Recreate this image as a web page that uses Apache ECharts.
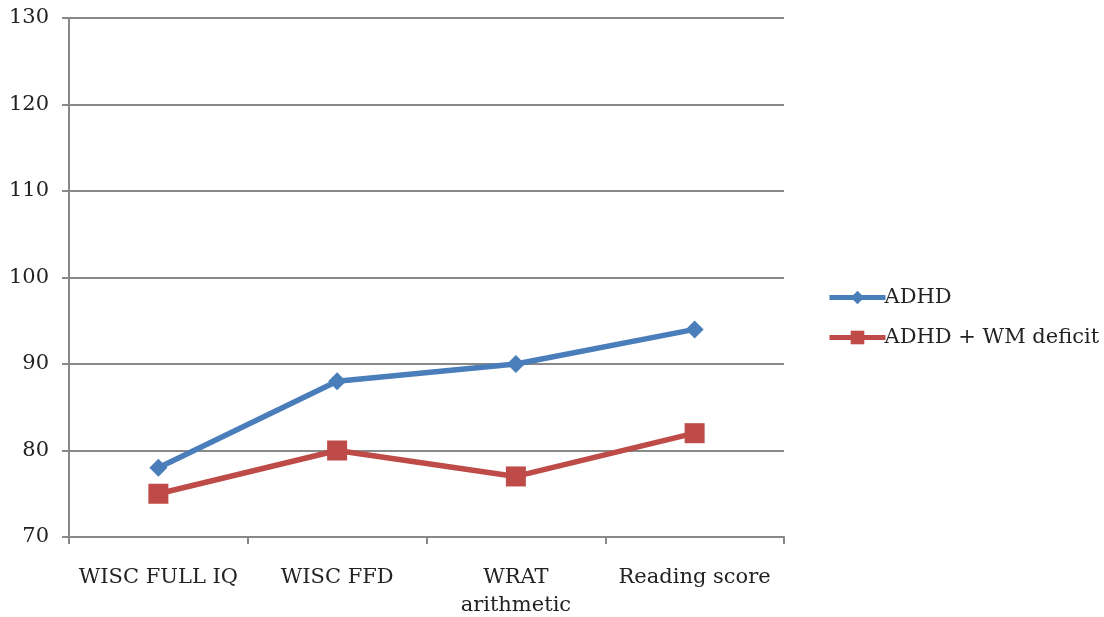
<!DOCTYPE html>
<html>
<head>
<meta charset="utf-8">
<script src="https://cdn.jsdelivr.net/npm/echarts@6/dist/echarts.min.js"></script>
<style>html,body{margin:0;padding:0;background:#fff}#c{width:1104px;height:617px}</style>
</head>
<body>
<div id="c"></div>
<script>
const categories = ['WISC FULL IQ', 'WISC FFD', 'WRAT\narithmetic', 'Reading score'];
const adhd = [78, 88, 90, 94];
const adhdWM = [75, 80, 77, 82];
const seriesNames = ['ADHD', 'ADHD + WM deficit'];

const font = 'DejaVu Serif';
const chart = echarts.init(document.getElementById('c'));
chart.setOption({
  animation: false,
  backgroundColor: '#fff',
  grid: { left: 69, right: 320, top: 18, bottom: 80, containLabel: false, outerBoundsMode: 'none' },
  xAxis: {
    type: 'category',
    data: categories,
    boundaryGap: true,
    axisLine: { lineStyle: { color: '#888', width: 2 } },
    axisTick: { show: true, length: 7, alignWithLabel: false, lineStyle: { color: '#888', width: 2 } },
    axisLabel: { color: '#222', fontFamily: font, fontSize: 21, margin: 27, lineHeight: 28, interval: 0 }
  },
  yAxis: {
    type: 'value',
    min: 70, max: 130, interval: 10,
    axisLine: { show: true, lineStyle: { color: '#888', width: 2 } },
    axisTick: { show: true, length: 7, lineStyle: { color: '#888', width: 2 } },
    axisLabel: { color: '#222', fontFamily: font, fontSize: 21, margin: 20 },
    splitLine: { lineStyle: { color: '#888', width: 2 } }
  },
  legend: {
    orient: 'vertical',
    left: 822, top: 282,
    itemGap: 19,
    itemWidth: 56, itemHeight: 17,
    textStyle: { color: '#222', fontFamily: font, fontSize: 21, padding: [0, 0, 0, -6] },
    lineStyle: { width: 5 },
    data: seriesNames
  },
  series: [
    {
      name: seriesNames[0], type: 'line', data: adhd,
      symbol: 'diamond', symbolSize: 18,
      lineStyle: { color: '#4a7ebb', width: 5.5 },
      itemStyle: { color: '#4a7ebb' }
    },
    {
      name: seriesNames[1], type: 'line', data: adhdWM,
      symbol: 'rect', symbolSize: 20,
      lineStyle: { color: '#be4b48', width: 5.5 },
      itemStyle: { color: '#be4b48' }
    }
  ]
});
</script>
</body>
</html>
